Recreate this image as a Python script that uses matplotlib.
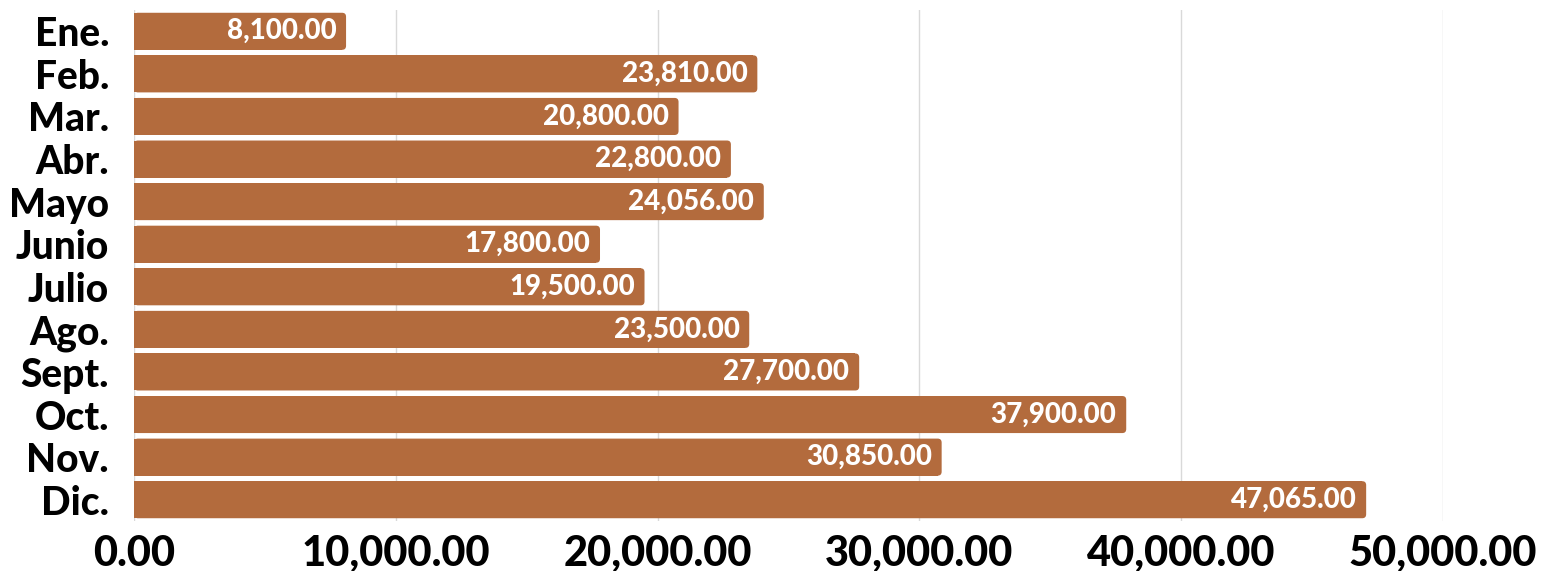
import matplotlib
matplotlib.use("Agg")
import matplotlib.pyplot as plt
from matplotlib.patches import FancyBboxPatch
from matplotlib.ticker import FuncFormatter

meses = ["Ene.", "Feb.", "Mar.", "Abr.", "Mayo", "Junio", "Julio",
         "Ago.", "Sept.", "Oct.", "Nov.", "Dic."]
valores = [8100, 23810, 20800, 22800, 24056, 17800, 19500,
           23500, 27700, 37900, 30850, 47065]

color_barra = "#B36B3D"
plt.rcParams["font.family"] = ["Lato", "DejaVu Sans"]

fig = plt.figure(figsize=(15.44, 5.71), dpi=100)
ax = fig.add_axes([134 / 1544, 1 - 521 / 571, (1443 - 134) / 1544, 511 / 571])

pos = list(range(len(meses)))
alto = 0.87
radio = 150  # en unidades de x (~4 px)
barras = ax.barh(pos, [v - radio for v in valores], height=alto,
                 color=color_barra, zorder=2)
for b, v in zip(barras, valores):
    y0 = b.get_y()
    ax.add_patch(FancyBboxPatch((0, y0), v, alto,
                                boxstyle=f"round,pad=0,rounding_size={radio}",
                                mutation_aspect=0.094 / 150,
                                facecolor=color_barra, edgecolor="none",
                                zorder=2))
    ax.text(v - 370, y0 + alto / 2, f"{v:,.2f}", ha="right", va="center",
            color="white", fontsize=20, fontweight="black", zorder=3)

ax.set_xlim(0, 50000)
ax.set_ylim(len(meses) - 0.5, -0.5)
ax.set_yticks(pos)
ax.set_yticklabels(meses, fontsize=28, fontweight="black")
ax.set_xticks(range(0, 50001, 10000))
ax.xaxis.set_major_formatter(FuncFormatter(lambda x, p: f"{x:,.2f}"))
for t in ax.get_xticklabels():
    t.set_fontsize(30)
    t.set_fontweight("black")
ax.tick_params(axis="both", length=0)
ax.tick_params(axis="y", pad=18)
ax.tick_params(axis="x", pad=10)
ax.grid(axis="x", color="#d9d9d9", linewidth=1, zorder=0)
ax.set_axisbelow(True)
for s in ax.spines.values():
    s.set_visible(False)

fig.savefig("out.png", dpi=100)
